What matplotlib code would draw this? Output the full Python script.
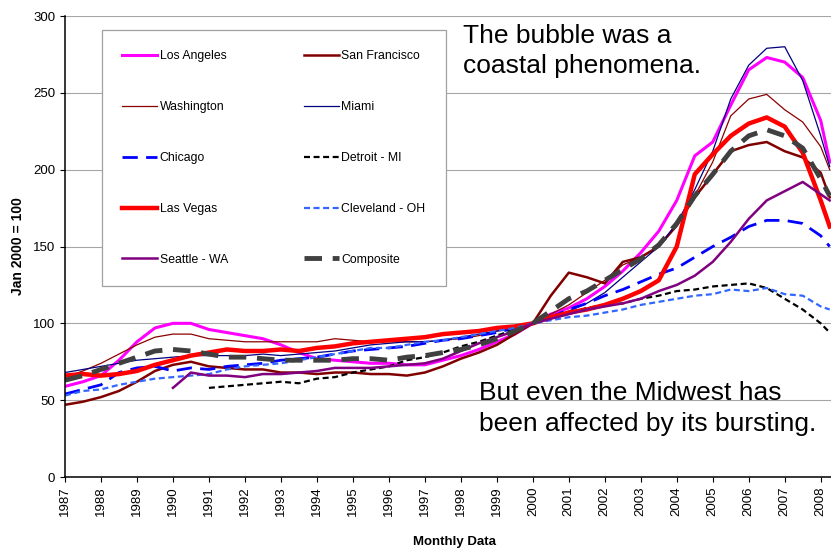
import numpy as np
import matplotlib
matplotlib.use("Agg")
import matplotlib.pyplot as plt

plt.rcParams['font.family'] = ['Liberation Sans', 'DejaVu Sans']

# half-yearly readings, index Jan 2000 = 100
years = np.append(np.arange(1987, 2008.5, 0.5), 2008.25)
year_ticks = list(range(1987, 2009))

los_angeles = [59, 62, 66, 76, 88, 97, 100, 100, 96, 94, 92, 90, 86, 81, 77, 76, 75, 74, 74, 73,
               73, 76, 79, 83, 88, 93, 100, 106, 110, 116, 124, 134, 146, 160, 180, 209, 218, 242, 265, 273,
               270, 260, 232, 205]
san_francisco = [47, 49, 52, 56, 62, 69, 73, 75, 72, 71, 70, 70, 68, 68, 67, 68, 68, 67, 67, 66,
                 68, 72, 77, 81, 86, 93, 100, 118, 133, 130, 126, 140, 143, 150, 164, 182, 197, 212, 216, 218,
                 212, 208, 198, 182]
washington = [65, 69, 74, 80, 86, 91, 93, 93, 90, 89, 88, 88, 88, 88, 88, 90, 89, 88, 88, 88,
              88, 89, 90, 92, 95, 97, 100, 106, 112, 120, 128, 138, 143, 150, 163, 183, 205, 235, 246, 249,
              239, 231, 215, 200]
miami = [68, 70, 72, 74, 76, 77, 78, 79, 79, 79, 79, 80, 79, 80, 81, 82, 84, 86, 87, 88,
         88, 89, 91, 93, 95, 97, 100, 104, 108, 113, 120, 130, 140, 150, 165, 187, 212, 246, 268, 279,
         280, 258, 222, 202]
chicago = [54, 57, 60, 68, 71, 72, 69, 71, 70, 72, 73, 74, 76, 77, 78, 80, 82, 83, 84, 85,
           87, 89, 90, 92, 94, 97, 100, 104, 109, 113, 118, 122, 127, 132, 136, 143, 150, 156, 163, 167,
           167, 165, 157, 150]
detroit = [None, None, None, None, None, None, None, None, 58, 59, 60, 61, 62, 61, 64, 65, 68, 70, 72, 76,
           78, 81, 85, 88, 92, 96, 100, 104, 107, 110, 112, 113, 116, 118, 121, 122, 124, 125, 126, 123,
           116, 109, 100, 94]
las_vegas = [66, 67, 66, 67, 69, 73, 76, 79, 81, 83, 82, 82, 83, 82, 84, 85, 87, 88, 89, 90,
             91, 93, 94, 95, 97, 98, 100, 104, 107, 109, 112, 116, 121, 128, 150, 197, 210, 222, 230, 234,
             228, 211, 180, 163]
cleveland = [53, 56, 57, 60, 62, 64, 65, 66, 67, 70, 72, 73, 74, 76, 78, 80, 82, 84, 84, 86,
             88, 89, 91, 93, 95, 97, 100, 102, 104, 105, 107, 109, 112, 114, 116, 118, 119, 122, 121, 123,
             119, 118, 111, 109]
seattle = [None, None, None, None, None, None, 58, 68, 66, 66, 65, 67, 67, 68, 69, 71, 71, 71, 72, 73,
           74, 77, 82, 87, 91, 95, 100, 103, 106, 109, 111, 113, 116, 121, 125, 131, 140, 153, 168, 180,
           186, 192, 184, 180]
composite = [63, 66, 70, 74, 78, 82, 83, 82, 80, 78, 78, 77, 76, 76, 76, 76, 77, 77, 76, 78,
             79, 81, 83, 86, 90, 95, 100, 108, 116, 121, 128, 135, 142, 151, 165, 183, 197, 212, 222, 226,
             222, 214, 194, 183]

series = [
    ('Los Angeles', los_angeles, dict(color='#ff00ff', lw=2.2)),
    ('San Francisco', san_francisco, dict(color='#800000', lw=1.8)),
    ('Washington', washington, dict(color='#8b0000', lw=0.9)),
    ('Miami', miami, dict(color='#000080', lw=0.9)),
    ('Chicago', chicago, dict(color='#0000ff', lw=2.0, dashes=(5.5, 3))),
    ('Detroit - MI', detroit, dict(color='black', lw=1.6, dashes=(2.7, 1.6))),
    ('Las Vegas', las_vegas, dict(color='#ff0000', lw=3.2)),
    ('Cleveland - OH', cleveland, dict(color='#3366ff', lw=1.6, dashes=(2.7, 1.6))),
    ('Seattle - WA', seattle, dict(color='#800080', lw=1.8)),
    ('Composite', composite, dict(color='#404040', lw=3.5, dashes=(3.6, 2.2))),
]

fig = plt.figure(figsize=(8.31, 5.5), dpi=100)
ax = fig.add_axes([0.0782, 0.1327, 0.9218, 0.8382])

handles = {}
for name, vals, style in series:
    line, = ax.plot(years, np.array(vals, dtype=float), label=name, **style)
    handles[name] = line

ax.set_xlim(1987, 2008.286)
ax.set_ylim(0, 300)
ax.set_yticks(range(0, 301, 50))
ax.set_xticks(year_ticks)
ax.set_xticklabels([str(y) for y in year_ticks], rotation=90)
ax.tick_params(labelsize=9.5, length=3.5, width=0.8, colors='black')
ax.grid(axis='y', color='#a6a6a6', lw=0.8)
ax.set_axisbelow(True)
for s in ['top', 'right']:
    ax.spines[s].set_visible(False)
for s in ['left', 'bottom']:
    ax.spines[s].set_linewidth(1.1)

ax.set_ylabel('Jan 2000 = 100', fontsize=10, fontweight='bold', labelpad=6)
ax.set_xlabel('Monthly Data', fontsize=9.5, fontweight='bold')
ax.xaxis.set_label_coords(0.509, -0.128)

order = ['Los Angeles', 'Washington', 'Chicago', 'Las Vegas', 'Seattle - WA',
         'San Francisco', 'Miami', 'Detroit - MI', 'Cleveland - OH', 'Composite']
leg = ax.legend([handles[n] for n in order], order, ncol=2, fontsize=8.8,
                loc='upper left', bbox_to_anchor=(0.0483, 0.9696),
                labelspacing=3.18, handlelength=2.87, handletextpad=0.2, columnspacing=6.2,
                borderpad=1.65, borderaxespad=0, fancybox=False, framealpha=1)
leg.get_frame().set_edgecolor('#a0a0a0')
leg.get_frame().set_linewidth(0.9)

fig.text(0.557, 0.957, 'The bubble was a\ncoastal phenomena.', fontsize=19,
         va='top', ha='left', linespacing=1.35)
fig.text(0.576, 0.307, 'But even the Midwest has\nbeen affected by its bursting.', fontsize=19,
         va='top', ha='left', linespacing=1.35)

fig.savefig('out.png', dpi=100)
